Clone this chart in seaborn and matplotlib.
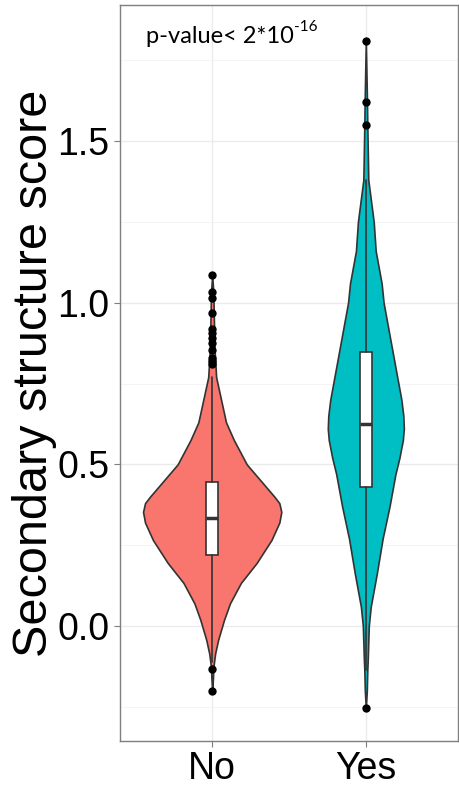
import numpy as np
import pandas as pd
import matplotlib
matplotlib.use("Agg")
import matplotlib.pyplot as plt
import seaborn as sns

groups = ["No", "Yes"]
fills = ["#F8766D", "#00BFC4"]

# violin outlines: score and half width (relative density)
no_score = [-0.201, -0.16, -0.127, -0.085, -0.043, 0.019, 0.07, 0.133, 0.195, 0.266,
            0.32, 0.353, 0.38, 0.40, 0.45, 0.50, 0.575, 0.63, 0.70, 0.77, 0.85, 0.95, 1.03, 1.086]
no_dens = [0, 0.8, 1.2, 3, 6, 12, 18, 29, 45, 60,
           68, 70, 68, 63, 49, 35, 22, 14, 9, 4, 2.5, 1.7, 1.2, 0]

yes_score = [-0.254, -0.20, -0.136, -0.10, 0.0, 0.06, 0.16, 0.27, 0.37, 0.47,
             0.52, 0.575, 0.61, 0.65, 0.70, 0.75, 0.85, 1.0, 1.06, 1.16, 1.25, 1.38,
             1.55, 1.62, 1.81]
yes_dens = [0, 1, 1.5, 2, 3, 5, 11, 17, 24, 30,
            34, 37.5, 38.5, 38, 36, 33, 27, 18, 16, 10, 8, 2.5,
            1.5, 1.2, 0]

# boxplot stats
q1 = [0.22, 0.43]
med = [0.334, 0.625]
q3 = [0.446, 0.848]
whis_lo = [-0.11, -0.136]
whis_hi = [0.77, 1.38]
no_out = [1.086, 1.034, 1.014, 0.968, 0.92, 0.905, 0.89, 0.875, 0.854, 0.83, 0.82, 0.81,
          -0.133, -0.201]
yes_out = [1.81, 1.62, 1.55, -0.254]

sns.set_style("white")
plt.rcParams["font.family"] = ["Liberation Sans", "DejaVu Sans"]

fig = plt.figure(figsize=(4.59, 7.88), dpi=100)
ax = fig.add_axes([120 / 459, 47 / 788, 338 / 459, 736 / 788])

edge = "#333333"
norm = max(no_dens)
for i, (ys, ds) in enumerate([(no_score, no_dens), (yes_score, yes_dens)]):
    half = np.array(ds) / norm * 0.45
    ax.fill_betweenx(ys, i - half, i + half, facecolor=fills[i], edgecolor=edge,
                     linewidth=1.2, zorder=2)

stats = []
for i in range(2):
    stats.append(dict(med=med[i], q1=q1[i], q3=q3[i], whislo=whis_lo[i],
                      whishi=whis_hi[i], fliers=[]))
ax.bxp(stats, positions=[0, 1], widths=0.075, patch_artist=True, showcaps=False,
       boxprops=dict(facecolor="white", edgecolor=edge, linewidth=1.2),
       medianprops=dict(color=edge, linewidth=2.5),
       whiskerprops=dict(color=edge, linewidth=1.2),
       manage_ticks=False, zorder=3)

out_df = pd.DataFrame({
    "group": ["No"] * len(no_out) + ["Yes"] * len(yes_out),
    "score": no_out + yes_out,
})
sns.stripplot(data=out_df, x="group", y="score", order=groups, jitter=False,
              color="black", size=6, linewidth=0, ax=ax, zorder=4)

ax.set_xlim(-0.6, 1.6)
ax.set_ylim(-0.3557, 1.921)
ax.set_xticks([0, 1])
ax.set_xticklabels(groups)
ax.set_yticks([0, 0.5, 1.0, 1.5])
ax.set_yticklabels(["0.0", "0.5", "1.0", "1.5"])
ax.set_yticks([-0.25, 0.25, 0.75, 1.25, 1.75], minor=True)
ax.grid(True, which="major", color="#ebebeb", linewidth=1.0, zorder=0)
ax.grid(True, which="minor", axis="y", color="#f4f4f4", linewidth=0.7, zorder=0)
ax.set_axisbelow(True)
ax.tick_params(axis="both", which="major", labelsize=27, length=4, width=0.8,
               color="#7f7f7f", labelcolor="black", left=True, bottom=True)
ax.tick_params(axis="y", which="minor", length=0)
for s in ax.spines.values():
    s.set_color("#7f7f7f")
    s.set_linewidth(1.0)

ax.set_xlabel("")
ax.set_ylabel("Secondary structure score", fontsize=35, color="black")
ax.yaxis.set_label_coords(-0.186, 0.5)

pv = ax.text(0.077, 0.957, "p-value< 2*10", transform=ax.transAxes,
             fontsize=17, family="Lato", va="center", ha="left", color="black")
ax.annotate("-16", xy=(1.0, 0.62), xycoords=pv, fontsize=11, family="Lato",
            va="bottom", ha="left", color="black")

fig.savefig("out.png", dpi=100)
